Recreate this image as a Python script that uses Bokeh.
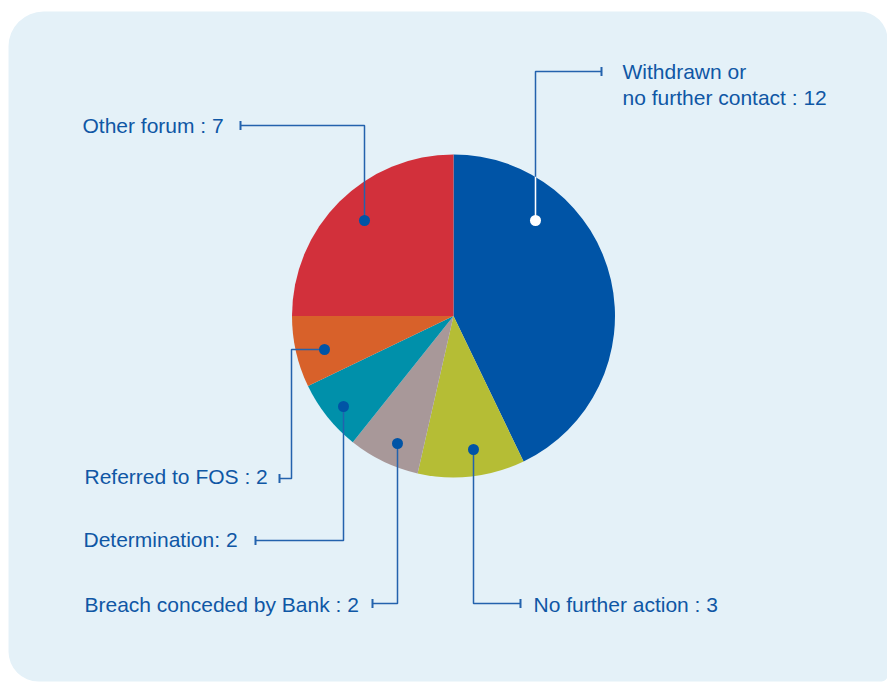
import numpy as np
from bokeh.plotting import figure
from bokeh.models import Range1d, BoxAnnotation, ColumnDataSource
from bokeh.embed import file_html
from bokeh.resources import INLINE
from bokeh.core.properties import value

# ---- data ----
categories = ["Withdrawn or no further contact", "No further action",
              "Breach conceded by Bank", "Determination",
              "Referred to FOS", "Other forum"]
counts = [12, 3, 2, 2, 2, 7]
label_lines = [["Withdrawn or", "no further contact : 12"],
               ["No further action : 3"],
               ["Breach conceded by Bank : 2"],
               ["Determination: 2"],
               ["Referred to FOS : 2"],
               ["Other forum : 7"]]
colors = ["#0054a6", "#b5bd35", "#a89899", "#0090aa", "#d8612a", "#d2303b"]

# ---- layout ----
W, H = 887, 682
CX, CY, R = 453, 315.5, 161.5

def Y(py):
    return H - py

# leader polylines (pixel coords), text anchors (x, vertical centres)
leaders = [
    [(535, 220), (535, 71), (601, 71)],
    [(473, 449), (473, 603), (520, 603)],
    [(397, 443), (397, 603), (372, 603)],
    [(343, 406), (343, 540), (255, 540)],
    [(324, 349), (291, 349), (291, 478), (279, 478)],
    [(364, 220), (364, 125), (240, 125)],
]
text_pos = [
    (622, [71, 97]),
    (533, [604]),
    (84, [604]),
    (83, [539]),
    (84, [476]),
    (82, [125]),
]
dot_colors = ["white", "#0054a6", "#0054a6", "#0054a6", "#0054a6", "#0054a6"]

p = figure(width=W, height=H, x_range=Range1d(0, W), y_range=Range1d(0, H),
           output_backend="svg", toolbar_location=None, min_border=0)
p.axis.visible = False
p.grid.visible = False
p.outline_line_color = None
p.background_fill_color = "white"
p.border_fill_color = "white"

bg = BoxAnnotation(left=8, right=887, top=Y(11), bottom=Y(681),
                   fill_color="#e4f1f8", fill_alpha=1, line_color=None,
                   level="underlay",
                   border_radius=dict(top_left=35, top_right=28,
                                      bottom_right=6, bottom_left=30))
p.add_layout(bg)

total = sum(counts)
cum = np.concatenate([[0], np.cumsum(counts)])
start = np.pi / 2 - cum[:-1] / total * 2 * np.pi
end = np.pi / 2 - cum[1:] / total * 2 * np.pi
src = ColumnDataSource(dict(start=start, end=end, color=colors, cat=categories))
p.wedge(x=CX, y=Y(CY), radius=R, start_angle="start", end_angle="end",
        direction="clock", fill_color="color", line_color=None, source=src)

LINE = "#2362ad"
TXT = "#0f57a5"
for i, pts in enumerate(leaders):
    xs = [a for a, b in pts]
    ys = [Y(b) for a, b in pts]
    p.line(xs, ys, line_color=LINE, line_width=1.5)
    ex, ey = pts[-1]
    p.segment(x0=[ex], y0=[Y(ey - 4.5)], x1=[ex], y1=[Y(ey + 4.5)],
              line_color=LINE, line_width=2)
    if dot_colors[i] == "white":
        dx = pts[0][0] - CX
        yedge = CY - np.sqrt(R ** 2 - dx ** 2)
        p.line([pts[0][0], pts[0][0]], [Y(pts[0][1]), Y(yedge)],
               line_color="white", line_width=1.5)
    p.scatter([pts[0][0]], [Y(pts[0][1])], size=11, marker="circle",
              fill_color=dot_colors[i], line_color=None)
    tx, cys = text_pos[i]
    for line_txt, cy in zip(label_lines[i], cys):
        p.text(x=[tx], y=[Y(cy)], text=[line_txt],
               text_font=value("Liberation Sans"), text_font_size="21px",
               text_color=TXT, text_baseline="middle", text_align="left")

open("out.html", "w").write(file_html(p, INLINE))
